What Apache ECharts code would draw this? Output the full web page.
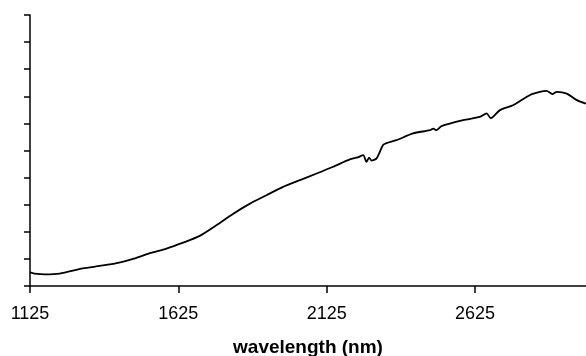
<!DOCTYPE html>
<html>
<head>
  <meta charset="UTF-8">
  <title>spectrum</title>
  <script type="text/javascript" src="https://cdn.jsdelivr.net/npm/echarts@6/dist/echarts.min.js"></script>
  <style>
    html, body { margin: 0; padding: 0; background: #fff; }
  </style>
</head>
<body>
<div id="chart" style="width:586px; height:356px;"></div>
<script>
  // wavelength (nm) and signal
  const wavelength = [
    1125, 1140, 1175, 1225, 1303, 1360, 1417, 1475, 1529, 1585,
    1641, 1697, 1753, 1809, 1865, 1922, 1978, 2035, 2091, 2147,
    2203, 2230, 2248, 2259, 2268, 2276, 2293, 2315, 2327, 2360,
    2416, 2473, 2484, 2495, 2512, 2585, 2641, 2664, 2678, 2709,
    2753, 2809, 2843, 2866, 2886, 2900, 2934, 2968, 2999
  ];
  const signal = [
    0.50, 0.46, 0.43, 0.46, 0.65, 0.74, 0.84, 1.01, 1.21, 1.38,
    1.60, 1.85, 2.24, 2.66, 3.03, 3.35, 3.66, 3.91, 4.15, 4.40,
    4.67, 4.75, 4.83, 4.58, 4.74, 4.63, 4.71, 5.20, 5.27, 5.38,
    5.63, 5.75, 5.81, 5.75, 5.90, 6.12, 6.24, 6.37, 6.19, 6.49,
    6.67, 7.04, 7.16, 7.20, 7.08, 7.16, 7.10, 6.86, 6.73
  ];
  const xTicks = [1125, 1625, 2125, 2625];

  let chart = echarts.init(document.getElementById('chart'), null, {renderer: 'canvas'});

  let points = wavelength.map((w, i) => [w, signal[i]]);

  chart.setOption({
    animation: false,
    backgroundColor: '#fff',
    grid: {left: 30, right: 0, top: 15, bottom: 70, containLabel: false, outerBoundsMode: 'none'},
    xAxis: {
      type: 'value',
      min: 1125,
      max: 2999,
      name: 'wavelength (nm)',
      nameLocation: 'middle',
      nameGap: 52,
      nameTextStyle: {color: '#000', fontFamily: 'Arial, Liberation Sans', fontSize: 19, fontWeight: 'bold'},
      axisLine: {lineStyle: {color: '#000', width: 1.5}},
      axisTick: {show: true, length: 7, lineStyle: {color: '#000', width: 1.5}, customValues: xTicks},
      axisLabel: {
        color: '#000', fontFamily: 'Arial, Liberation Sans', fontSize: 18, margin: 19,
        customValues: xTicks,
        formatter: v => String(v)
      },
      splitLine: {show: false}
    },
    yAxis: {
      type: 'value',
      min: 0,
      max: 10,
      interval: 1,
      axisLine: {show: true, lineStyle: {color: '#000', width: 1.5}},
      axisTick: {show: true, length: 6, lineStyle: {color: '#000', width: 1.5}},
      axisLabel: {show: false},
      splitLine: {show: false}
    },
    series: [{
      type: 'line',
      data: points,
      showSymbol: false,
      smooth: 0.25,
      color: '#000',
      lineStyle: {color: '#000', width: 1.8}
    }]
  });
</script>
</body>
</html>
